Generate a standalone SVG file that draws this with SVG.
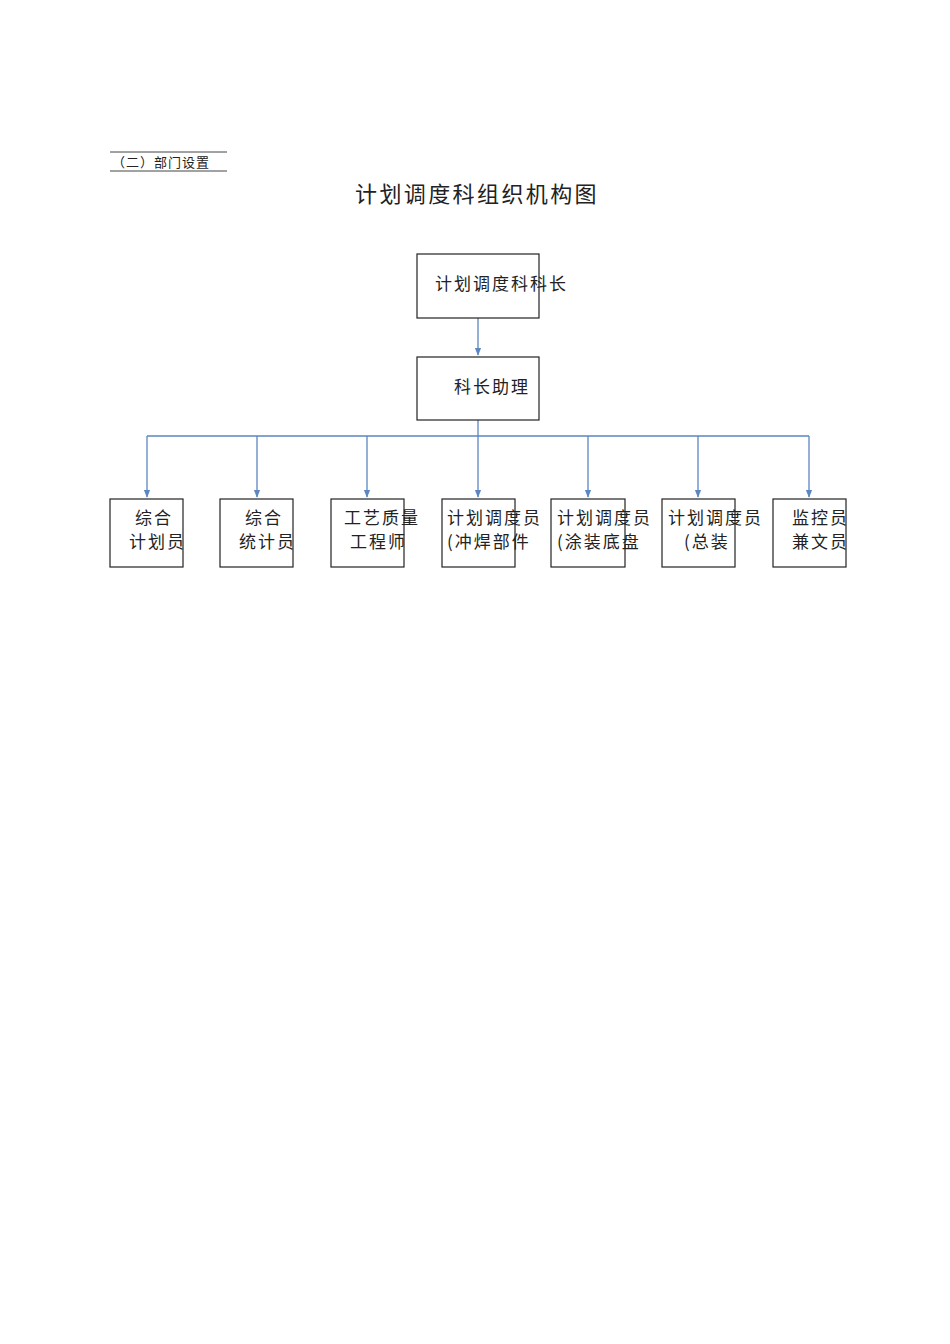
<svg xmlns="http://www.w3.org/2000/svg" width="950" height="1344" viewBox="0 0 950 1344">
<style>
text{font-family:"Noto Sans CJK SC","Liberation Sans",sans-serif;fill:#222}
.b{fill:#fff;stroke:#222;stroke-width:1.2}
.t{font-size:17px;letter-spacing:2px}
.c{fill:none;stroke:#5b86c0;stroke-width:1.3}
</style>
<defs><marker id="a" viewBox="0 0 10 10" refX="9" refY="5" markerWidth="6" markerHeight="6" orient="auto"><path d="M0,1L10,5L0,9z" fill="#5b86c0"/></marker></defs>
<rect width="950" height="1344" fill="#fff"/>
<g id="header">
<line x1="110" y1="152" x2="227" y2="152" stroke="#444"/>
<line x1="110" y1="171" x2="227" y2="171" stroke="#444"/>
<text x="112" y="167" font-size="13" letter-spacing="1">（二）部门设置</text>
<text x="355" y="202" font-size="22" letter-spacing="2.4">计划调度科组织机构图</text>
</g>
<g id="connectors">
<line class="c" x1="478" y1="318" x2="478" y2="355" marker-end="url(#a)"/>
<line class="c" x1="478" y1="420" x2="478" y2="497" marker-end="url(#a)"/>
<line class="c" x1="147" y1="436" x2="809" y2="436"/>
<line class="c" x1="147" y1="436" x2="147" y2="497" marker-end="url(#a)"/>
<line class="c" x1="257" y1="436" x2="257" y2="497" marker-end="url(#a)"/>
<line class="c" x1="367" y1="436" x2="367" y2="497" marker-end="url(#a)"/>
<line class="c" x1="588" y1="436" x2="588" y2="497" marker-end="url(#a)"/>
<line class="c" x1="698" y1="436" x2="698" y2="497" marker-end="url(#a)"/>
<line class="c" x1="809" y1="436" x2="809" y2="497" marker-end="url(#a)"/>
</g>
<g id="n0"><rect class="b" x="417" y="254" width="122" height="64"/><text class="t" x="435" y="290">计划调度科科长</text></g>
<g id="n1"><rect class="b" x="417" y="357" width="122" height="63"/><text class="t" x="454" y="393">科长助理</text></g>
<g id="n2"><rect class="b" x="110" y="499" width="73" height="68"/><text class="t" x="135" y="524">综合</text><text class="t" x="129" y="548">计划员</text></g>
<g id="n3"><rect class="b" x="220" y="499" width="73" height="68"/><text class="t" x="245" y="524">综合</text><text class="t" x="239" y="548">统计员</text></g>
<g id="n4"><rect class="b" x="331" y="499" width="73" height="68"/><text class="t" x="344" y="524">工艺质量</text><text class="t" x="350" y="548">工程师</text></g>
<g id="n5"><rect class="b" x="442" y="499" width="73" height="68"/><text class="t" x="447" y="524">计划调度员</text><text class="t" x="447" y="548">(冲焊部件</text></g>
<g id="n6"><rect class="b" x="551" y="499" width="74" height="68"/><text class="t" x="557" y="524">计划调度员</text><text class="t" x="557" y="548">(涂装底盘</text></g>
<g id="n7"><rect class="b" x="662" y="499" width="73" height="68"/><text class="t" x="668" y="524">计划调度员</text><text class="t" x="684" y="548">(总装</text></g>
<g id="n8"><rect class="b" x="773" y="499" width="73" height="68"/><text class="t" x="792" y="524">监控员</text><text class="t" x="792" y="548">兼文员</text></g>
</svg>
